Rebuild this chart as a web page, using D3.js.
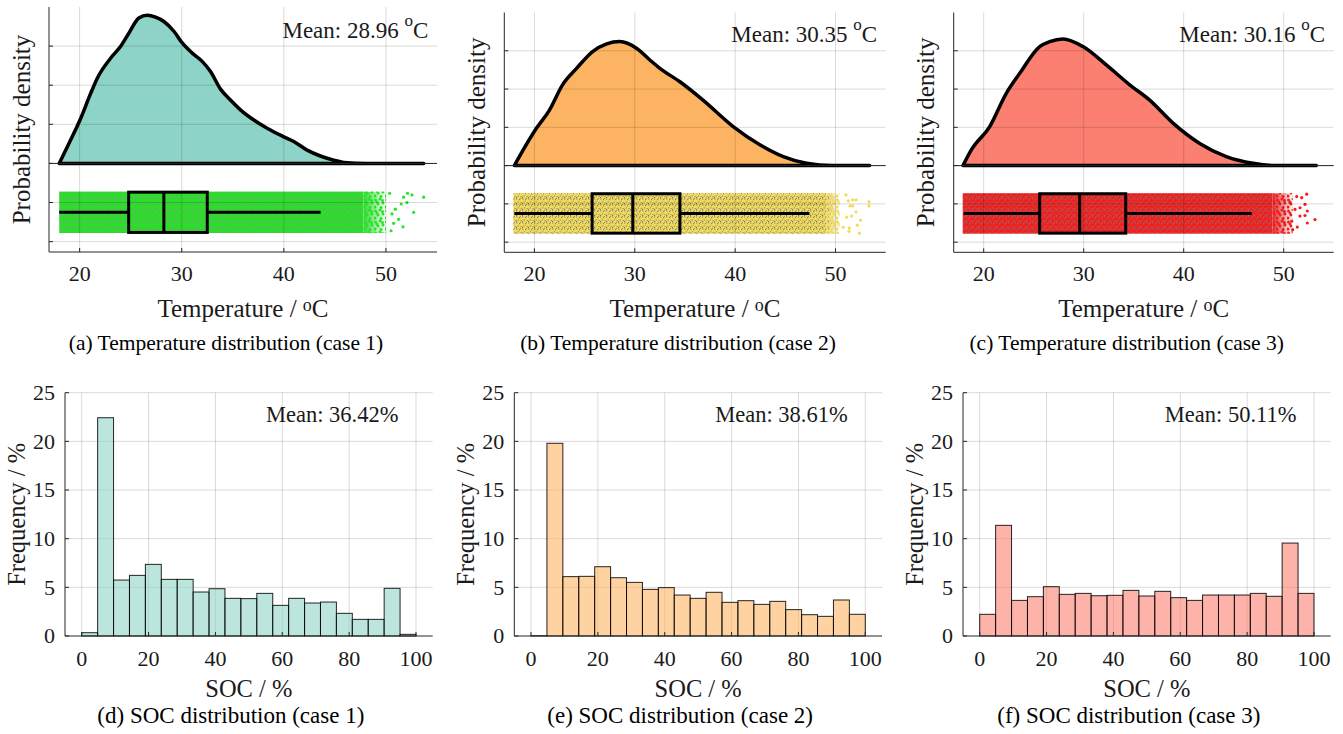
<!DOCTYPE html>
<html>
<head>
<meta charset="utf-8">
<script src="https://cdn.jsdelivr.net/npm/d3@7"></script>
<style>
body { margin: 0; background: #fff; }
text { font-family: "Liberation Serif", "Times New Roman", serif; fill: #1a1a1a; }
</style>
</head>
<body>
<script>
// ticks
var tempTicks = [20, 30, 40, 50];
var densTicks = [-0.04, -0.02, 0, 0.02, 0.04, 0.06];
var socTicks = [0, 20, 40, 60, 80, 100];
var freqTicks = [0, 5, 10, 15, 20, 25];

var caseFill = ["#8dd3c7", "#fdb462", "#fb8072"];
var dotColor = ["#22e622", "#f2dc55", "#f51c1c"];
var speckColor = ["#8c8c8c", "#6e6e92", "#7c7c7c"];

var tempMean = ["28.96", "30.35", "30.16"];
var socMean = ["36.42", "38.61", "50.11"];
var captionsTop = ["(a) Temperature distribution (case 1)", "(b) Temperature distribution (case 2)", "(c) Temperature distribution (case 3)"];
var captionsBot = ["(d) SOC distribution (case 1)", "(e) SOC distribution (case 2)", "(f) SOC distribution (case 3)"];

// kernel density
var densT1 = [18.0, 18.95, 20.1, 21.08, 21.73, 23.03, 24.0, 24.82, 25.8, 26.62, 27.44, 28.25, 29.23, 30.05, 31.03, 32.0, 32.82, 33.8, 34.77, 35.75, 37.06, 38.36, 40.0, 40.97, 42.28, 43.58, 44.88, 45.86, 48.15, 53.7];
var densP1 = [0, 0.0102, 0.023, 0.0358, 0.0436, 0.0538, 0.0598, 0.0666, 0.0744, 0.0758, 0.0748, 0.0726, 0.0676, 0.0616, 0.0564, 0.0522, 0.047, 0.038, 0.0324, 0.0274, 0.0222, 0.018, 0.0136, 0.0112, 0.0068, 0.0038, 0.0017, 0.0005, 0, 0];
var densT2 = [18.0, 18.5, 20.2, 21.5, 22.8, 24.2, 25.8, 27.2, 28.5, 30.2, 31.5, 32.5, 34.5, 36.8, 39.8, 42.5, 44.8, 47.1, 49.7, 53.4];
var densP2 = [0, 0.0047, 0.0195, 0.029, 0.0422, 0.0508, 0.0596, 0.0636, 0.0648, 0.0612, 0.0552, 0.0508, 0.0438, 0.0342, 0.0204, 0.0108, 0.0047, 0.0012, 0, 0];
var densT3 = [17.93, 18.76, 20.6, 22.26, 23.6, 25.6, 26.6, 27.93, 29.93, 32.26, 34.6, 36.6, 38.93, 41.6, 44.26, 46.93, 49.26, 53.26];
var densP3 = [0, 0.0082, 0.0204, 0.0378, 0.0482, 0.0622, 0.0648, 0.0662, 0.0622, 0.0526, 0.0422, 0.0342, 0.0222, 0.0116, 0.0047, 0.0012, 0, 0];

// box plots: [lower whisker, q1, median, q3, upper whisker]
var boxStats1 = [18.0, 24.8, 28.25, 32.5, 43.6];
var boxStats2 = [18.0, 25.75, 29.8, 34.5, 47.4];
var boxStats3 = [18.0, 25.6, 29.6, 34.2, 46.8];

// jittered points: [start, end of dense part, end of thinning part]
var band1 = [18.0, 47.8, 50.0];
var band2 = [17.9, 49.1, 50.4];
var band3 = [17.9, 48.9, 50.9];
// isolated points: [temperature, jitter -1..1]
var outliers1 = [[50.36, 0.92], [51.73, 0.73], [52.12, 0.92], [52.55, 0.84], [53.69, 0.73], [51.5, 0.4], [52.06, 0.47], [50.92, 0.15], [52.71, 0.0], [50.59, -0.08], [51.24, -0.34], [50.75, -0.53], [51.67, -0.7], [50.5, -0.89]];
var outliers2 = [[51.04, 0.92], [51.27, 0.62], [51.71, 0.67], [52.04, 0.67], [53.33, 0.58], [53.33, 0.37], [51.44, 0.37], [51.71, 0.37], [52.04, 0.08], [51.6, -0.13], [51.1, -0.18], [52.5, -0.33], [52.17, -0.58], [51.37, -0.72], [50.77, -0.68], [52.37, -0.97], [51.34, -0.88]];
var outliers3 = [[51.8, 0.78], [52.3, 0.95], [51.3, 0.83], [52.13, 0.45], [51.63, 0.28], [51.13, 0.2], [52.36, 0.12], [52.13, -0.1], [51.63, -0.13], [53.13, -0.3], [52.36, -0.47], [51.36, -0.67], [50.9, -0.8], [50.8, -0.38], [50.63, 0.53]];

// SOC histograms, 21 bins over 0-100 (%)
var socFreq1 = [0.34, 22.43, 5.75, 6.23, 7.36, 5.82, 5.82, 4.52, 4.86, 3.87, 3.84, 4.38, 3.15, 3.87, 3.39, 3.49, 2.33, 1.71, 1.71, 4.9, 0.17];
var socFreq2 = [0.03, 19.8, 6.1, 6.13, 7.12, 5.99, 5.51, 4.79, 4.97, 4.21, 3.87, 4.49, 3.46, 3.63, 3.25, 3.56, 2.71, 2.19, 2.02, 3.7, 2.23];
var socFreq3 = [2.23, 11.37, 3.66, 4.04, 5.07, 4.28, 4.38, 4.14, 4.18, 4.69, 4.11, 4.59, 3.94, 3.66, 4.21, 4.21, 4.21, 4.38, 4.08, 9.55, 4.38];

var densT = [densT1, densT2, densT3];
var densP = [densP1, densP2, densP3];
var boxStats = [boxStats1, boxStats2, boxStats3];
var bands = [band1, band2, band3];
var outliers = [outliers1, outliers2, outliers3];
var socFreq = [socFreq1, socFreq2, socFreq3];

var topRects = [
  {x0: 49, x1: 437, y0: 7, y1: 252},
  {x0: 504.3, x1: 885.7, y0: 12.5, y1: 252.3},
  {x0: 953.7, x1: 1333.7, y0: 12.5, y1: 252.3}
];
var botRects = [
  {x0: 65, x1: 432.7, y0: 392.7, y1: 636},
  {x0: 514.3, x1: 882, y0: 392.7, y1: 636},
  {x0: 963, x1: 1330.7, y0: 392.7, y1: 636}
];

var boxMid = -0.025, boxHalf = 0.0103, bandHalf = 0.0106;
var axisColor = "#262626";

var svg = d3.select("body").append("svg")
  .attr("width", 1343)
  .attr("height", 734)
  .style("display", "block")
  .style("background", "#fff");
var defs = svg.append("defs");

var fadeGrad = defs.append("linearGradient").attr("id", "fadeGrad");
fadeGrad.append("stop").attr("offset", "0%").attr("stop-color", "#fff");
fadeGrad.append("stop").attr("offset", "100%").attr("stop-color", "#000");

// dot textures for the jittered scatter
var speckPos = [[0.8, 0.9], [3.6, 1.7], [2.2, 3.9], [5.1, 4.6], [0.6, 5.4], [4.4, 0.2]];
var sparsePos = [[1.5, 2], [6, 1], [4, 6], [9, 5], [1, 9], [7, 9.5], [3, 4], [8.5, 2.5]];
[0, 1, 2].forEach(function(i) {
  var p = defs.append("pattern").attr("id", "dense" + i)
    .attr("patternUnits", "userSpaceOnUse").attr("width", 6).attr("height", 6);
  p.append("rect").attr("width", 6).attr("height", 6).attr("fill", dotColor[i]);
  speckPos.forEach(function(s) {
    p.append("circle").attr("cx", s[0]).attr("cy", s[1]).attr("r", 0.6).attr("fill", speckColor[i]);
  });
  var q = defs.append("pattern").attr("id", "sparse" + i)
    .attr("patternUnits", "userSpaceOnUse").attr("width", 11).attr("height", 11);
  sparsePos.forEach(function(s) {
    q.append("circle").attr("cx", s[0]).attr("cy", s[1]).attr("r", 1.5)
      .attr("fill", dotColor[i]);
  });
});

function degreeLabel(sel, before, supSize, supShift) {
  sel.append("tspan").text(before);
  sel.append("tspan").attr("font-size", supSize).attr("dy", -supShift).text("o");
  sel.append("tspan").attr("dy", supShift).text("C");
}

var drawTop = function(i) {
  var r = topRects[i];
  var x = d3.scaleLinear().domain([17, 55]).range([r.x0, r.x1]);
  var y = d3.scaleLinear().domain([-0.0453, 0.08]).range([r.y1, r.y0]);
  var g = svg.append("g");

  var pts = densT[i].map(function(t, k) { return [t, densP[i][k]]; });
  var area = d3.area()
    .x(function(d) { return x(d[0]); })
    .y0(y(0))
    .y1(function(d) { return y(d[1]); })
    .curve(d3.curveMonotoneX);
  g.append("path")
    .attr("d", area(pts))
    .attr("fill", caseFill[i])
    .attr("stroke", "#000")
    .attr("stroke-width", 3.5)
    .attr("stroke-linejoin", "round");

  // jitter band
  var b = bands[i];
  var yt = y(boxMid + bandHalf), yb = y(boxMid - bandHalf);
  g.append("rect").attr("x", x(b[0])).attr("y", yt)
    .attr("width", x(b[1]) - x(b[0])).attr("height", yb - yt)
    .attr("fill", "url(#dense" + i + ")");
  var m = defs.append("mask").attr("id", "fade" + i).attr("maskUnits", "userSpaceOnUse");
  m.append("rect").attr("x", x(b[1])).attr("y", yt)
    .attr("width", x(b[2]) - x(b[1])).attr("height", yb - yt)
    .attr("fill", "url(#fadeGrad)");
  g.append("rect").attr("x", x(b[1])).attr("y", yt)
    .attr("width", x(b[2]) - x(b[1])).attr("height", yb - yt)
    .attr("fill", "url(#dense" + i + ")")
    .attr("mask", "url(#fade" + i + ")");
  g.append("rect").attr("x", x(b[1])).attr("y", yt)
    .attr("width", x(b[2]) - x(b[1])).attr("height", yb - yt)
    .attr("fill", "url(#sparse" + i + ")");
  g.selectAll("circle.out").data(outliers[i]).enter().append("circle")
    .attr("cx", function(d) { return x(d[0]); })
    .attr("cy", function(d) { return y(boxMid + d[1] * bandHalf); })
    .attr("r", 1.6)
    .attr("fill", dotColor[i]);

  // box
  var s = boxStats[i];
  var bt = y(boxMid + boxHalf), bb = y(boxMid - boxHalf), bm = y(boxMid);
  g.append("line").attr("x1", x(s[0])).attr("x2", x(s[1])).attr("y1", bm).attr("y2", bm)
    .attr("stroke", "#000").attr("stroke-width", 3);
  g.append("line").attr("x1", x(s[3])).attr("x2", x(s[4])).attr("y1", bm).attr("y2", bm)
    .attr("stroke", "#000").attr("stroke-width", 3);
  g.append("rect").attr("x", x(s[1])).attr("y", bt)
    .attr("width", x(s[3]) - x(s[1])).attr("height", bb - bt)
    .attr("fill", "none").attr("stroke", "#000").attr("stroke-width", 3);
  g.append("line").attr("x1", x(s[2])).attr("x2", x(s[2])).attr("y1", bt).attr("y2", bb)
    .attr("stroke", "#000").attr("stroke-width", 3);

  // grid on top
  g.selectAll("line.gx").data(tempTicks).enter().append("line")
    .attr("x1", function(d) { return x(d); }).attr("x2", function(d) { return x(d); })
    .attr("y1", r.y0).attr("y2", r.y1)
    .attr("stroke", "#000").attr("stroke-opacity", 0.15);
  g.selectAll("line.gy").data(densTicks).enter().append("line")
    .attr("x1", r.x0).attr("x2", r.x1)
    .attr("y1", function(d) { return y(d); }).attr("y2", function(d) { return y(d); })
    .attr("stroke", "#000").attr("stroke-opacity", 0.15);
  g.append("line").attr("x1", r.x0).attr("x2", r.x1).attr("y1", y(0)).attr("y2", y(0))
    .attr("stroke", axisColor).attr("stroke-width", 1);

  // axes
  g.append("line").attr("x1", r.x0).attr("x2", r.x0).attr("y1", r.y0).attr("y2", r.y1).attr("stroke", axisColor);
  g.append("line").attr("x1", r.x0).attr("x2", r.x1).attr("y1", r.y1).attr("y2", r.y1).attr("stroke", axisColor);
  g.selectAll("line.ty").data(densTicks).enter().append("line")
    .attr("x1", r.x0).attr("x2", r.x0 + 4)
    .attr("y1", function(d) { return y(d); }).attr("y2", function(d) { return y(d); })
    .attr("stroke", axisColor);
  g.selectAll("line.tx").data(tempTicks).enter().append("line")
    .attr("x1", function(d) { return x(d); }).attr("x2", function(d) { return x(d); })
    .attr("y1", r.y1).attr("y2", r.y1 - 4)
    .attr("stroke", axisColor);
  g.selectAll("text.tl").data(tempTicks).enter().append("text")
    .attr("x", function(d) { return x(d); }).attr("y", r.y1 + 29)
    .attr("text-anchor", "middle").attr("font-size", 22)
    .text(function(d) { return d; });

  var cx = (r.x0 + r.x1) / 2;
  degreeLabel(g.append("text").attr("x", cx).attr("y", 316.5)
    .attr("text-anchor", "middle").attr("font-size", 25), "Temperature / ", 18, 6);
  g.append("text")
    .attr("transform", "translate(" + (r.x0 - 19.5) + "," + ((r.y0 + r.y1) / 2) + ") rotate(-90)")
    .attr("text-anchor", "middle").attr("font-size", 25)
    .text("Probability density");
  degreeLabel(g.append("text").attr("x", x(54.15)).attr("y", y(0.0644))
    .attr("text-anchor", "end").attr("font-size", 23), "Mean: " + tempMean[i] + " ", 17, 12);
  g.append("text").attr("x", cx - 17).attr("y", 350)
    .attr("text-anchor", "middle").attr("font-size", 21.5)
    .style("fill", "#000")
    .text(captionsTop[i]);
};

var drawHist = function(i) {
  var r = botRects[i];
  var x = d3.scaleLinear().domain([-5, 105]).range([r.x0, r.x1]);
  var y = d3.scaleLinear().domain([0, 25]).range([r.y1, r.y0]);
  var binW = 100 / socFreq[i].length;
  var g = svg.append("g");

  g.selectAll("line.gx").data(socTicks).enter().append("line")
    .attr("x1", function(d) { return x(d); }).attr("x2", function(d) { return x(d); })
    .attr("y1", r.y0).attr("y2", r.y1)
    .attr("stroke", "#000").attr("stroke-opacity", 0.15);
  g.selectAll("line.gy").data(freqTicks.slice(1)).enter().append("line")
    .attr("x1", r.x0).attr("x2", r.x1)
    .attr("y1", function(d) { return y(d); }).attr("y2", function(d) { return y(d); })
    .attr("stroke", "#000").attr("stroke-opacity", 0.15);

  g.selectAll("rect.bar").data(socFreq[i]).enter().append("rect")
    .attr("x", function(d, k) { return x(k * binW); })
    .attr("width", function(d, k) { return x((k + 1) * binW) - x(k * binW); })
    .attr("y", function(d) { return y(d); })
    .attr("height", function(d) { return y(0) - y(d); })
    .attr("fill", caseFill[i]).attr("fill-opacity", 0.6)
    .attr("stroke", "#000").attr("stroke-opacity", 0.85).attr("stroke-width", 1);

  g.append("line").attr("x1", r.x0).attr("x2", r.x0).attr("y1", r.y0).attr("y2", r.y1).attr("stroke", axisColor);
  g.append("line").attr("x1", r.x0).attr("x2", r.x1).attr("y1", r.y1).attr("y2", r.y1).attr("stroke", axisColor);
  g.selectAll("line.ty").data(freqTicks).enter().append("line")
    .attr("x1", r.x0).attr("x2", r.x0 + 4)
    .attr("y1", function(d) { return y(d); }).attr("y2", function(d) { return y(d); })
    .attr("stroke", axisColor);
  g.selectAll("line.tx").data(socTicks).enter().append("line")
    .attr("x1", function(d) { return x(d); }).attr("x2", function(d) { return x(d); })
    .attr("y1", r.y1).attr("y2", r.y1 - 4)
    .attr("stroke", axisColor);
  g.selectAll("text.tx").data(socTicks).enter().append("text")
    .attr("x", function(d) { return x(d); }).attr("y", r.y1 + 29.5)
    .attr("text-anchor", "middle").attr("font-size", 22)
    .text(function(d) { return d; });
  g.selectAll("text.ty").data(freqTicks).enter().append("text")
    .attr("x", r.x0 - 10).attr("y", function(d) { return y(d); })
    .attr("dy", "0.33em")
    .attr("text-anchor", "end").attr("font-size", 22)
    .text(function(d) { return d; });

  var cx = (r.x0 + r.x1) / 2;
  g.append("text").attr("x", cx).attr("y", 697)
    .attr("text-anchor", "middle").attr("font-size", 24.5)
    .text("SOC / %");
  g.append("text")
    .attr("transform", "translate(" + (r.x0 - 40) + "," + ((r.y0 + r.y1) / 2) + ") rotate(-90)")
    .attr("text-anchor", "middle").attr("font-size", 24.5)
    .text("Frequency / %");
  g.append("text").attr("x", x(94.75)).attr("y", y(22))
    .attr("text-anchor", "end").attr("font-size", 22.5)
    .text("Mean: " + socMean[i] + "%");
  g.append("text").attr("x", cx - 18).attr("y", 723)
    .attr("text-anchor", "middle").attr("font-size", 23)
    .style("fill", "#000")
    .text(captionsBot[i]);
};

[0, 1, 2].forEach(function(i) { drawTop(i); drawHist(i); });
</script>
</body>
</html>
